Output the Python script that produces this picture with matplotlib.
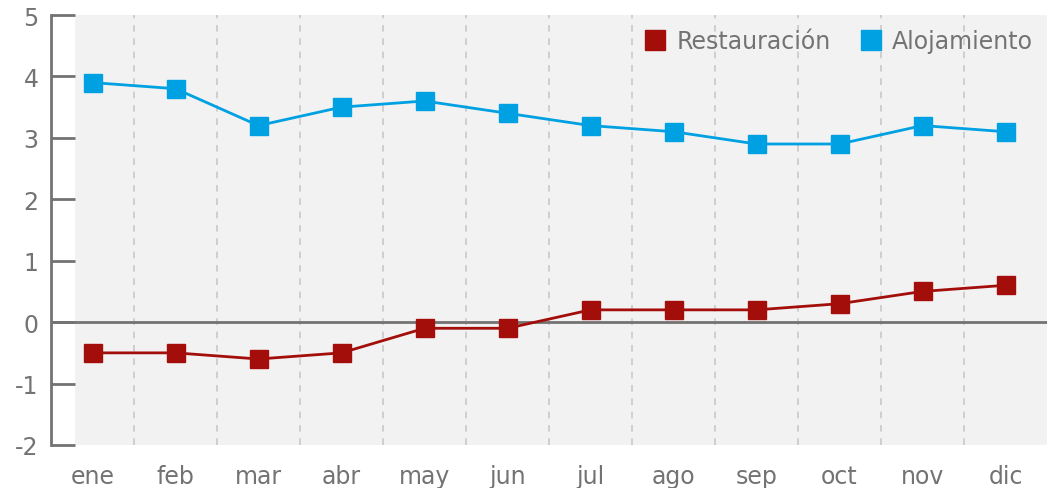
import numpy as np
import matplotlib.pyplot as plt
from matplotlib.patches import Rectangle

# =====================================================
# DATA
# =====================================================

meses = ["ene", "feb", "mar", "abr", "may", "jun",
         "jul", "ago", "sep", "oct", "nov", "dic"]

restauracion = [-0.5, -0.5, -0.6, -0.5, -0.1, -0.1,
                0.2, 0.2, 0.2, 0.3, 0.5, 0.6]

alojamiento = [3.9, 3.8, 3.2, 3.5, 3.6, 3.4,
               3.2, 3.1, 2.9, 2.9, 3.2, 3.1]

y_ticks = [-2, -1, 0, 1, 2, 3, 4, 5]

# =====================================================
# STYLE
# =====================================================

ROJO = "#a30e0b"
AZUL = "#00a1e2"
GRIS = "#737373"
FONDO = "#f2f2f2"

plt.rcParams["font.family"] = ["DejaVu Sans"]
plt.rcParams["axes.unicode_minus"] = False

W, H = 1047, 489

fig = plt.figure(figsize=(W / 100, H / 100), dpi=100)

ax = fig.add_axes([
    51 / W,
    (H - 446) / H,
    996 / W,
    430 / H
])

ax.set_facecolor("white")

# gray panel starts a little right of the y axis
ax.add_patch(
    Rectangle(
        (24 / 996, 0),
        1 - 24 / 996,
        1,
        transform=ax.transAxes,
        facecolor=FONDO,
        edgecolor="none",
        zorder=0
    )
)

x = np.arange(len(meses))

# dashed separators between months
for b in np.arange(0.5, len(meses) - 1, 1.0):
    ax.axvline(
        b,
        color="#c9c9c9",
        linestyle=(0, (4, 4)),
        linewidth=1.2,
        zorder=1
    )

ax.axhline(0, color=GRIS, linewidth=2, zorder=2)

ax.plot(
    x, restauracion,
    color=ROJO,
    linewidth=2,
    marker="s",
    markersize=13,
    label="Restauración",
    zorder=3
)

ax.plot(
    x, alojamiento,
    color=AZUL,
    linewidth=2,
    marker="s",
    markersize=13,
    label="Alojamiento",
    zorder=3
)

ax.set_xlim(-0.5, len(meses) - 0.5)
ax.set_ylim(-2, 5)

ax.set_xticks(x)
ax.set_xticklabels(meses)
ax.set_yticks(y_ticks)

for s in ["top", "right", "bottom"]:
    ax.spines[s].set_visible(False)

ax.spines["left"].set_color(GRIS)
ax.spines["left"].set_linewidth(2)

ax.tick_params(
    axis="y",
    direction="in",
    length=17,
    width=2,
    color=GRIS,
    pad=9,
    labelsize=17,
    labelcolor=GRIS
)

ax.tick_params(
    axis="x",
    length=0,
    pad=14,
    labelsize=17,
    labelcolor=GRIS
)

leg = ax.legend(
    loc="upper right",
    ncol=2,
    frameon=False,
    fontsize=17,
    labelcolor=GRIS,
    handlelength=1.0,
    handletextpad=0.4,
    columnspacing=1.2,
    borderaxespad=0.2
)

# legend shows only the square
for h in leg.legend_handles:
    h.set_linestyle("none")
    h.set_markersize(15)

fig.savefig("out.png", dpi=100)
